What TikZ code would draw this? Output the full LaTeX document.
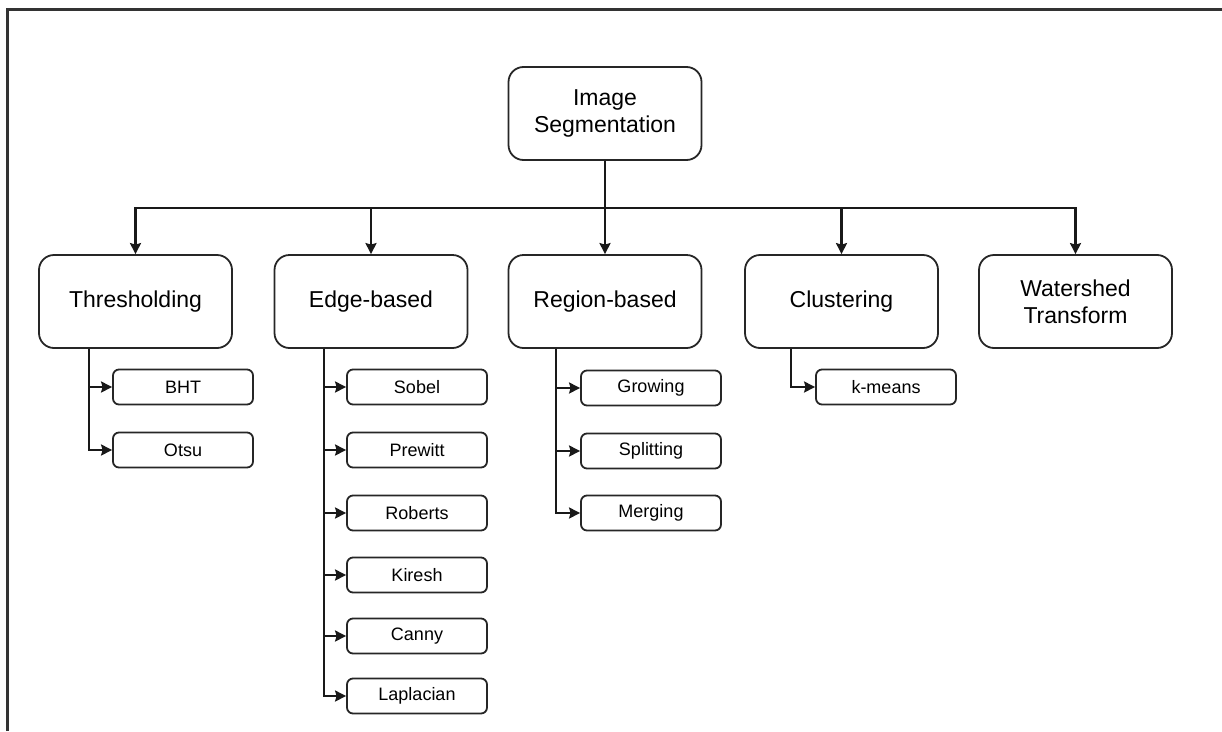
\documentclass[tikz,border=0pt]{standalone}
\usepackage{fontspec}
\setmainfont{Liberation Sans}
\usepackage{tikz}
\usetikzlibrary{arrows.meta}

\tikzset{
  mainbox/.style={draw=black!85, line width=1.8pt, rounded corners=15pt,
    minimum width=193pt, minimum height=93pt, inner sep=0pt, align=center,
    font=\fontsize{23}{27}\selectfont},
  subbox/.style={draw=black!85, line width=1.8pt, rounded corners=6pt,
    minimum width=140pt, minimum height=35pt, inner sep=0pt,
    font=\fontsize{18}{21}\selectfont},
  arr/.style={draw=black!90, line width=2.2pt, -{Stealth[length=11pt,width=11pt,inset=1.5pt]}},
}

\begin{document}
\begin{tikzpicture}[x=1pt,y=-1pt]
\useasboundingbox (0,0) rectangle (1222,731);
% frame
\draw[line width=2.2pt, black!80] (7.5,731) -- (7.5,9.5) -- (1222,9.5);

% top and first level
\node[mainbox] (seg) at (605,113.5) {Image\\Segmentation};
\coordinate (bus) at (605,208);
\node[mainbox] (thr) at (135.5,301.5) {Thresholding};
\node[mainbox] (edge) at (371,301.5) {Edge-based};
\node[mainbox] (reg) at (605,301.5) {Region-based};
\node[mainbox] (clu) at (841.5,301.5) {Clustering};
\node[mainbox] (wat) at (1075.5,301.5) {Watershed\\Transform};

\draw[arr] (seg.south) -- (seg.south |- bus) -| (thr.north);
\draw[arr] (seg.south) -- (seg.south |- bus) -| (edge.north);
\draw[arr] (seg.south) -- (reg.north);
\draw[arr] (seg.south) -- (seg.south |- bus) -| (clu.north);
\draw[arr] (seg.south) -- (seg.south |- bus) -| (wat.north);

% thresholding
\node[subbox] (bht) at (183,387) {BHT};
\node[subbox] (otsu) at (183,450) {Otsu};
\draw[arr] ([xshift=51pt]thr.south west) |- (bht.west);
\draw[arr] ([xshift=51pt]thr.south west) |- (otsu.west);

% edge-based
\node[subbox] (sobel) at (417,387) {Sobel};
\node[subbox] (prew) at (417,450) {Prewitt};
\node[subbox] (rob) at (417,513) {Roberts};
\node[subbox] (kir) at (417,575) {Kiresh};
\node[subbox] (can) at (417,636) {Canny};
\node[subbox] (lap) at (417,696) {Laplacian};
\draw[arr] ([xshift=50.5pt]edge.south west) |- (sobel.west);
\draw[arr] ([xshift=50.5pt]edge.south west) |- (prew.west);
\draw[arr] ([xshift=50.5pt]edge.south west) |- (rob.west);
\draw[arr] ([xshift=50.5pt]edge.south west) |- (kir.west);
\draw[arr] ([xshift=50.5pt]edge.south west) |- (can.west);
\draw[arr] ([xshift=50.5pt]edge.south west) |- (lap.west);

% region-based
\node[subbox] (grow) at (651,388) {Growing};
\node[subbox] (split) at (651,451) {Splitting};
\node[subbox] (merg) at (651,513) {Merging};
\draw[arr] ([xshift=48.5pt]reg.south west) |- (grow.west);
\draw[arr] ([xshift=48.5pt]reg.south west) |- (split.west);
\draw[arr] ([xshift=48.5pt]reg.south west) |- (merg.west);

% clustering
\node[subbox] (kmeans) at (886,387) {k-means};
\draw[arr] ([xshift=47pt]clu.south west) |- (kmeans.west);
\end{tikzpicture}
\end{document}
